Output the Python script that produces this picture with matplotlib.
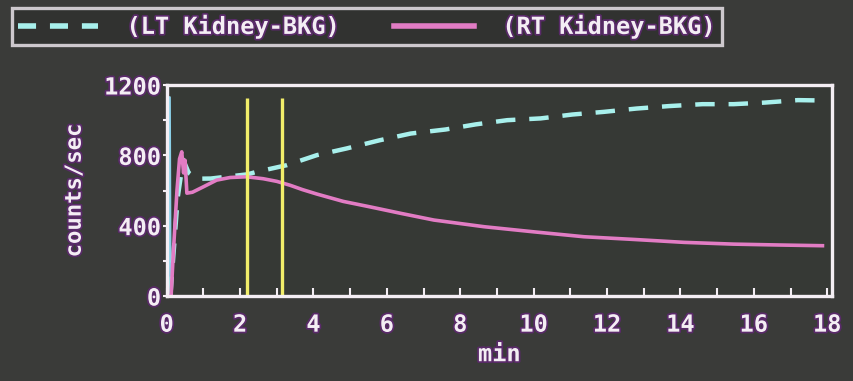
import matplotlib
matplotlib.use("Agg")
import matplotlib.pyplot as plt
import matplotlib.patheffects as pe
from matplotlib.lines import Line2D
from matplotlib.ticker import MultipleLocator

# data
lt_t = [0, 0.08, 0.1, 0.3, 0.45, 0.6, 0.82, 1.2, 1.7, 2.2, 2.45, 3.27, 4.09, 4.9,
        5.81, 6.65, 7.6, 8.42, 9.28, 10.19, 11.05, 11.9, 12.8, 13.68, 14.6, 15.45,
        16.3, 17.2, 17.85]
lt_v = [0, 1130, 0, 560, 775, 700, 667, 668, 680, 692, 706, 744, 801, 839,
        886, 924, 947, 976, 1000, 1010, 1032, 1047, 1066, 1080, 1091, 1091,
        1100, 1114, 1112]

rt_t = [0, 0.12, 0.18, 0.28, 0.35, 0.41, 0.46, 0.5, 0.55, 0.7, 1.0, 1.36, 1.73, 2.18,
        2.63, 3.0, 3.36, 3.7, 4.09, 4.81, 5.54, 6.38, 7.28, 8.65, 10.0, 11.37, 12.7,
        14.1, 15.45, 16.7, 17.87]
rt_v = [0, 0, 244, 600, 780, 820, 700, 772, 585, 590, 621, 659, 674, 678,
        667, 652, 630, 605, 580, 538, 507, 470, 432, 394, 365, 337, 322,
        305, 295, 290, 286]

markers_t = [2.18, 3.15]
labels = ["(LT Kidney-BKG)", "(RT Kidney-BKG)"]

bg = "#3a3b39"
fg = "#f4eef4"
cyan = "#a8f0ec"
pink = "#e27cc4"
yellow = "#f2ee6a"

plt.rcParams['font.family'] = ['DejaVu Sans Mono']
plt.rcParams['font.weight'] = 'bold'
plt.rcParams['lines.scale_dashes'] = False
shadow = [pe.withStroke(linewidth=2.5, foreground="#5a2a6a")]

fig = plt.figure(figsize=(8.54, 3.81), dpi=100, facecolor=bg)
ax = fig.add_axes([166.7 / 854, 1 - 296 / 381, (832 - 166.7) / 854, (296 - 85) / 381])
ax.set_facecolor("#363935")

# injection spike drawn solid, rest of the LT curve dashed
ax.plot(lt_t[:3], lt_v[:3], color="#8ad0e8", lw=1.8)
ax.plot(lt_t[2:], lt_v[2:], color=cyan, lw=3.2, linestyle=(0, (14, 10)),
        dash_capstyle='butt')
ax.plot(rt_t, rt_v, color=pink, lw=2.6)
ax.vlines(markers_t, 0, 1125, color=yellow, lw=2.4)

ax.set_xlim(0, 18.13)
ax.set_ylim(0, 1200)
ax.xaxis.set_major_locator(MultipleLocator(2))
ax.xaxis.set_minor_locator(MultipleLocator(1))
ax.yaxis.set_major_locator(MultipleLocator(400))
ax.yaxis.set_minor_locator(MultipleLocator(200))

for s in ax.spines.values():
    s.set_color(fg)
    s.set_linewidth(2.4)

ax.tick_params(axis='x', which='both', direction='in', length=6, width=1.5,
               color=fg, labelcolor=fg, labelsize=17, pad=12)
ax.tick_params(axis='y', which='both', direction='out', length=3, width=1.5,
               color=fg, labelcolor=fg, labelsize=17, pad=1)
for lab in ax.get_xticklabels() + ax.get_yticklabels():
    lab.set_fontweight('bold')
    lab.set_path_effects(shadow)

ax.set_xlabel("min", color=fg, fontsize=17, fontweight='bold', labelpad=4,
              path_effects=shadow)
ax.set_ylabel("counts/sec", color=fg, fontsize=16, fontweight='bold', labelpad=14,
              path_effects=shadow)

handles = [Line2D([], [], color=cyan, lw=4, linestyle=(0, (13, 10))),
           Line2D([], [], color=pink, lw=4)]
leg = fig.legend(handles, labels, loc='upper left',
                 bbox_to_anchor=(12 / 854, 1 - 42 / 381, 710 / 854, 34 / 381),
                 mode='expand', ncol=2, handlelength=3.4,
                 handletextpad=1.2, borderaxespad=0, borderpad=0.25,
                 prop={'family': 'DejaVu Sans Mono', 'weight': 'bold', 'size': 17},
                 frameon=True, fancybox=False)
leg.get_frame().set_facecolor("#2f302e")
leg.get_frame().set_edgecolor(fg)
leg.get_frame().set_linewidth(2.4)
for t in leg.get_texts():
    t.set_color(fg)
    t.set_path_effects(shadow)

fig.savefig("out.png", dpi=100, facecolor=bg)
